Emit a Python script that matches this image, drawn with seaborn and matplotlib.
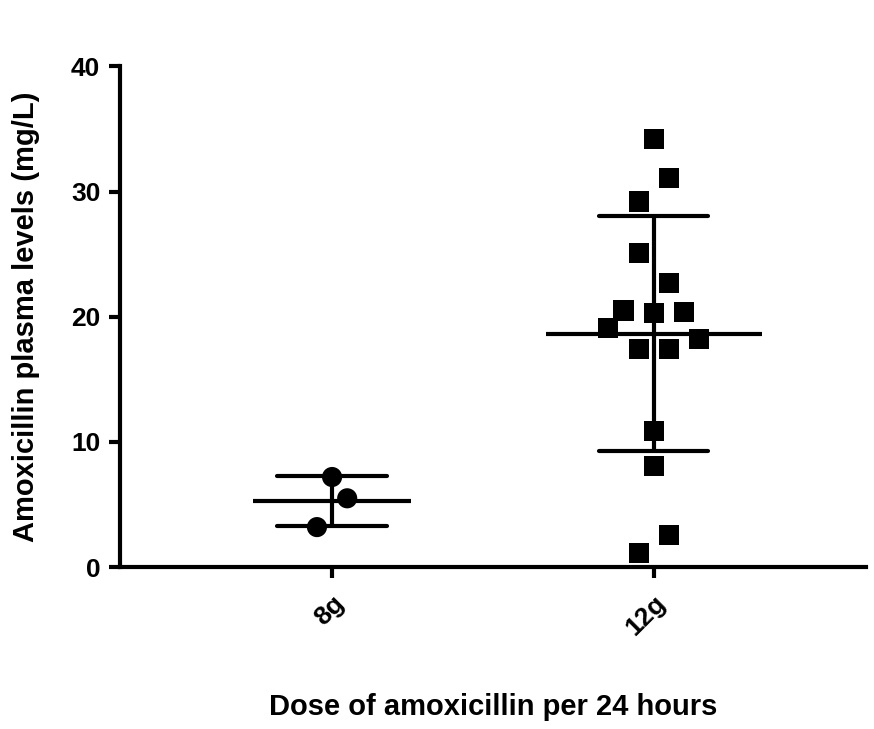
import numpy as np
import pandas as pd
import matplotlib
matplotlib.use('Agg')
import matplotlib.pyplot as plt
import seaborn as sns

# valeurs (mg/L)
doses = ['8g', '12g']
levels_8g = [7.2, 5.5, 3.2]
levels_12g = [34.2, 31.1, 29.2, 25.1, 22.7, 20.5, 20.3, 20.4,
              19.1, 18.2, 17.4, 17.4, 10.9, 8.1, 2.6, 1.1]
# colonne de chaque point dans le nuage (style GraphPad)
lanes_8g = [0, 1, -1]
lanes_12g = [0, 1, -1, -1, 1, -2, 0, 2, -3, 3, -1, 1, 0, 0, 1, -1]

df = pd.DataFrame({
    'dose': ['8g'] * len(levels_8g) + ['12g'] * len(levels_12g),
    'level': levels_8g + levels_12g,
    'lane': lanes_8g + lanes_12g,
})
df['pos'] = df['dose'].map({d: i for i, d in enumerate(doses)}) + df['lane'] * 0.047

sns.set_style('white')
plt.rcParams['font.family'] = ['Liberation Sans', 'DejaVu Sans']
plt.rcParams['font.weight'] = 'bold'
plt.rcParams['text.color'] = 'black'
plt.rcParams['axes.labelcolor'] = 'black'
plt.rcParams['xtick.color'] = 'black'
plt.rcParams['ytick.color'] = 'black'

fig = plt.figure(figsize=(8.74, 7.29), dpi=100)
ax = fig.add_axes([0.137, 0.222, 0.854, 0.687])

sns.scatterplot(data=df, x='pos', y='level', style='dose',
                markers={'8g': 'o', '12g': 's'}, color='black',
                s=210, linewidth=0, legend=False, ax=ax, clip_on=False, zorder=3)

# moyenne +/- ecart-type
mean_half = {'8g': 0.245, '12g': 0.335}
cap_half = 0.17
stats = df.groupby('dose')['level'].agg(['mean', 'std'])
for i, d in enumerate(doses):
    m, s = stats.loc[d, 'mean'], stats.loc[d, 'std']
    ax.hlines(m, i - mean_half[d], i + mean_half[d], color='black', lw=3, zorder=4)
    ax.hlines([m - s, m + s], i - cap_half, i + cap_half, color='black', lw=3,
              capstyle='round', zorder=4)
    ax.vlines(i, m - s, m + s, color='black', lw=3, zorder=4)

ax.set_xlim(-0.66, 1.66)
ax.set_ylim(0, 40)
ax.set_xticks(range(len(doses)))
ax.set_xticklabels(doses, rotation=45, ha='right', rotation_mode='anchor',
                   fontsize=19, fontweight='bold')
ax.set_yticks([0, 10, 20, 30, 40])
ax.set_yticklabels(['0', '10', '20', '30', '40'], fontsize=19, fontweight='bold')
ax.tick_params(axis='both', direction='out', length=8, width=3, color='black', pad=6,
               left=True, bottom=True)
ax.tick_params(axis='x', pad=9)

sns.despine(ax=ax)
for sp in ['left', 'bottom']:
    ax.spines[sp].set_linewidth(3)
    ax.spines[sp].set_color('black')

ax.set_xlabel('Dose of amoxicillin per 24 hours', fontsize=21, fontweight='bold', labelpad=38)
ax.set_ylabel('Amoxicillin plasma levels (mg/L)', fontsize=21, fontweight='bold', labelpad=22)

plt.savefig('out.png', dpi=100)
